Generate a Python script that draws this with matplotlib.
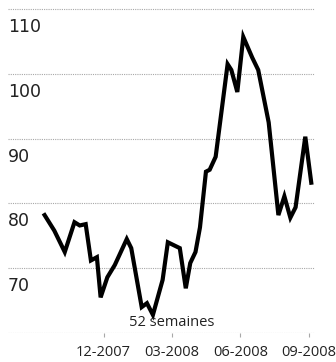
import numpy as np
import pandas as pd
import matplotlib
matplotlib.use("Agg")
import matplotlib.pyplot as plt

# cours sur 52 semaines
dates = ["2007-09-13", "2007-09-26", "2007-10-10", "2007-10-23", "2007-10-30",
         "2007-11-07", "2007-11-14", "2007-11-22", "2007-11-27", "2007-12-06",
         "2007-12-16", "2008-01-01", "2008-01-07", "2008-01-21", "2008-01-28",
         "2008-02-05", "2008-02-18", "2008-02-25", "2008-03-12", "2008-03-20",
         "2008-03-26", "2008-04-02", "2008-04-08", "2008-04-16", "2008-04-21",
         "2008-04-29", "2008-05-15", "2008-05-20", "2008-05-28", "2008-06-05",
         "2008-06-17", "2008-06-25", "2008-07-09", "2008-07-22", "2008-07-30",
         "2008-08-07", "2008-08-14", "2008-08-27", "2008-09-04"]
values = [78.2, 75.8, 72.5, 77.1, 76.6,
          76.8, 71.2, 71.7, 65.5, 68.6,
          70.5, 74.5, 73.1, 64.0, 64.6,
          62.8, 68.2, 74.0, 73.1, 66.9,
          70.8, 72.5, 76.3, 84.9, 85.2,
          87.2, 101.5, 100.6, 97.2, 105.7,
          102.5, 100.6, 92.5, 78.2, 81.1,
          77.8, 79.4, 90.3, 83.2]

ytick_values = [70, 80, 90, 100, 110]
xtick_dates = ["2007-12-01", "2008-03-01", "2008-06-01", "2008-09-01"]
xtick_labels = ["12-2007", "03-2008", "06-2008", "09-2008"]
note = "52 semaines"

x = pd.to_datetime(dates)
xt = pd.to_datetime(xtick_dates)

fig = plt.figure(figsize=(3.36, 3.62), dpi=100)
ax = fig.add_axes([8 / 336, 29 / 362, 307 / 336, 333 / 362])

grid_col = "#a8a8a8"
for v in ytick_values + [60]:
    ax.axhline(v, color=grid_col, lw=0.8, ls=(0, (1, 1)), zorder=1)
    if v != 60:
        ax.annotate(str(v), xy=(0, v), xycoords=("axes fraction", "data"),
                    xytext=(0, -9), textcoords="offset pixels",
                    ha="left", va="top", fontsize=12.5, color="#222222",
                    family="DejaVu Sans")

ax.plot(x, values, color="black", lw=3, solid_joinstyle="miter", zorder=3)

ax.set_ylim(60, 111.4)
ax.set_xlim(pd.Timestamp("2007-07-26"), pd.Timestamp("2008-09-09"))

ax.set_yticks([])
ax.set_xticks(xt)
ax.set_xticklabels(xtick_labels, fontsize=10.5, color="#222222", family="Open Sans")
ax.tick_params(axis="x", length=3, width=0.8, color=grid_col, pad=6)

for s in ax.spines.values():
    s.set_visible(False)

ax.text(pd.Timestamp("2008-03-01"), 60.4, note, ha="center", va="bottom",
        fontsize=10.5, color="#222222", family="Open Sans", zorder=4)

fig.savefig("out.png", dpi=100)
